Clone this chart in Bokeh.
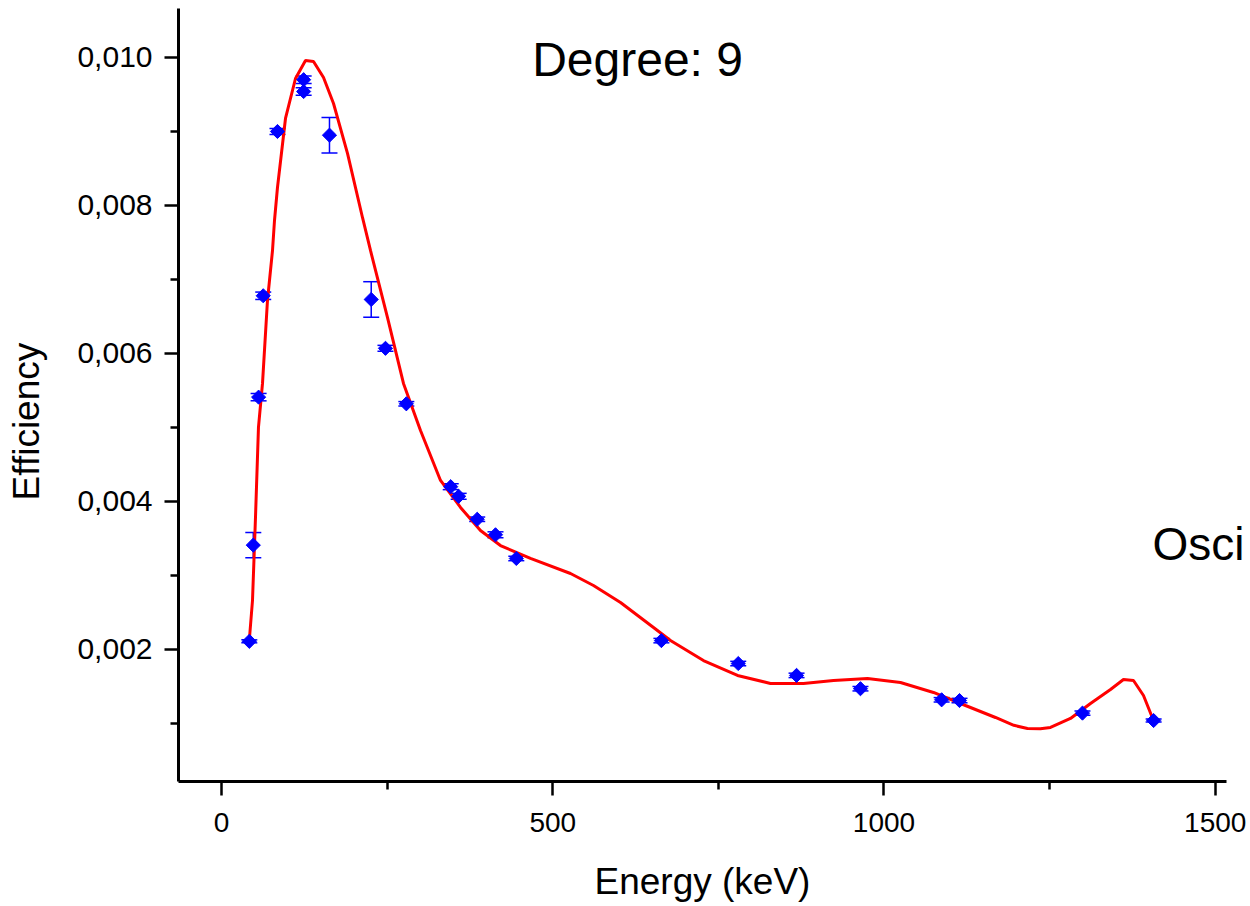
import math
from bokeh.plotting import figure
from bokeh.models import (Range1d, FixedTicker, CustomJSTickFormatter, Whisker, TeeHead,
                          ColumnDataSource, Label, LinearAxis)
from bokeh.embed import file_html
from bokeh.resources import INLINE

# measured points
energy = [42, 48, 56, 63, 84.5, 124, 124, 163, 226, 247.5, 279, 346, 358, 386, 413.6, 445,
          664, 780, 868, 964.5, 1087, 1114, 1299.6, 1407]
eff = [0.00211, 0.00341, 0.00541, 0.00678, 0.00900, 0.00970, 0.00954, 0.00895, 0.00673, 0.00607,
       0.00532, 0.00420, 0.00407, 0.00376, 0.00355, 0.00323, 0.00212, 0.00181, 0.00165, 0.00147,
       0.00132, 0.00131, 0.00114, 0.00104]
err = [0.00002, 0.00017, 0.00005, 0.00005, 0.00004, 0.00005, 0.00005, 0.00024, 0.00024, 0.00004,
       0.00003, 0.00004, 0.00004, 0.00003, 0.00004, 0.00003, 0.00003, 0.00003, 0.00003, 0.00003,
       0.00003, 0.00003, 0.00003, 0.00002]

# fitted curve (degree 9 polynomial)
fit_x = [42.3, 46.8, 51.3, 55.8, 61.9, 69.4, 77.0, 80.0, 84.5, 96.6, 111.7, 126.8, 138.9, 154.0,
         169.1, 190.2, 212.8, 224.9, 250.6, 274.7, 300.4, 330.6, 360.8, 390.9, 421.1, 466.4, 526.8,
         561.5, 602.3, 652.1, 677.7, 727.5, 778.9, 828.7, 878.5, 923.8, 975.1, 1024.9, 1074.7,
         1123.0, 1168.3, 1196.0, 1216.6, 1236.0, 1251.3, 1281.5, 1311.7, 1341.9, 1361.5, 1376.6,
         1391.7, 1406.8]
fit_y = [0.002162, 0.002662, 0.003784, 0.005000, 0.005595, 0.006716, 0.007392, 0.007797, 0.008243,
         0.009176, 0.009716, 0.009959, 0.009946, 0.009730, 0.009378, 0.008703, 0.007838, 0.007392,
         0.006486, 0.005595, 0.004959, 0.004284, 0.003919, 0.003608, 0.003405, 0.003230, 0.003027,
         0.002865, 0.002635, 0.002297, 0.002122, 0.001851, 0.001649, 0.001541, 0.001541, 0.001581,
         0.001608, 0.001554, 0.001419, 0.001243, 0.001081, 0.000975, 0.000932, 0.000928, 0.000946,
         0.001068, 0.001270, 0.001459, 0.001595, 0.001581, 0.001378, 0.001041]

x_major = [0, 500, 1000, 1500]
x_minor = [250, 750, 1250]
y_major = [0.002, 0.004, 0.006, 0.008, 0.010]
y_minor = [0.001, 0.003, 0.005, 0.007, 0.009]

FONT = "Liberation Sans"

p = figure(width=1250, height=906, output_backend="svg", toolbar_location=None,
           x_range=Range1d(-64.9, 1517), y_range=Range1d(0.000216, 0.010662),
           min_border_left=178, min_border_right=24, min_border_top=8, min_border_bottom=125)
p.outline_line_color = None
p.xgrid.grid_line_color = None
p.ygrid.grid_line_color = None
p.background_fill_color = "white"

for ax in (p.xaxis[0], p.yaxis[0]):
    ax.axis_line_width = 3
    ax.axis_line_color = "black"
    ax.major_tick_line_width = 2.5
    ax.minor_tick_line_width = 2.5
    ax.major_tick_out = 14
    ax.major_tick_in = 0
    ax.minor_tick_out = 8
    ax.minor_tick_in = 0
    ax.major_label_text_font = FONT
    ax.major_label_text_color = "black"
    ax.axis_label_text_font = FONT
    ax.axis_label_text_font_style = "normal"
    ax.axis_label_text_color = "black"
    ax.axis_label_text_font_size = "37px"

p.xaxis.major_label_text_font_size = "28px"
p.yaxis.major_label_text_font_size = "30px"
p.xaxis.ticker = FixedTicker(ticks=x_major, minor_ticks=x_minor)
p.yaxis.ticker = FixedTicker(ticks=y_major, minor_ticks=y_minor)
p.yaxis.formatter = CustomJSTickFormatter(code="return tick.toFixed(3).replace('.', ',');")
p.xaxis.major_label_standoff = 17
p.yaxis.major_label_standoff = 12
p.xaxis.axis_label = "Energy (keV)"
p.xaxis.axis_label_standoff = 26


def text_axis(label, ypos, size, standoff, orientation):
    a = LinearAxis(ticker=FixedTicker(ticks=[ypos], minor_ticks=[]),
                   formatter=CustomJSTickFormatter(code="return %r;" % label))
    a.axis_line_color = None
    a.major_tick_line_color = None
    a.minor_tick_line_color = None
    a.major_tick_out = 0
    a.major_tick_in = 0
    a.minor_tick_out = 0
    a.minor_tick_in = 0
    a.major_label_text_font = FONT
    a.major_label_text_font_size = size
    a.major_label_text_color = "black"
    a.major_label_standoff = standoff
    a.major_label_orientation = orientation
    return a


# y-axis title (placed at the reference's vertical position)
p.add_layout(text_axis("Efficiency", 0.00508, "37px", 27, "parallel"), "left")
# side annotation that overflows the plot frame
p.add_layout(text_axis("Osci", 0.00343, "46px", -74, "horizontal"), "right")

# fitted curve
p.line(fit_x, fit_y, line_color="#ff0000", line_width=3)

# error bars
lower = [e - d for e, d in zip(eff, err)]
upper = [e + d for e, d in zip(eff, err)]
src = ColumnDataSource(dict(x=energy, y=eff, lo=lower, up=upper))
w = Whisker(source=src, base="x", lower="lo", upper="up", dimension="height",
            line_color="#0000ff", line_width=1.5,
            upper_head=TeeHead(size=16, line_color="#0000ff", line_width=1.5),
            lower_head=TeeHead(size=16, line_color="#0000ff", line_width=1.5))
p.add_layout(w)

p.scatter("x", "y", source=src, marker="square", angle=math.pi / 4, size=10,
          fill_color="#0000ff", line_color="#0000ff")

p.add_layout(Label(x=628, y=0.00997, text="Degree: 9", text_align="center",
                   text_baseline="alphabetic", text_font=FONT, text_font_size="48px",
                   text_color="black"))

open("out.html", "w").write(file_html(p, INLINE))
